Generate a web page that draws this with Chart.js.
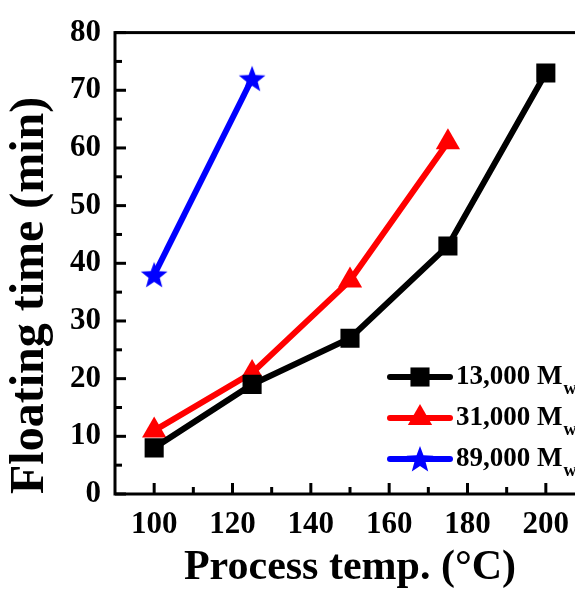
<!DOCTYPE html>
<html>
<head>
<meta charset="utf-8">
<script src="https://cdn.jsdelivr.net/npm/chart.js@4.4.0/dist/chart.umd.min.js"></script>
<style>
  html, body { margin: 0; padding: 0; background: #fff; overflow: hidden; }
  #wrap { width: 620px; height: 593px; }
</style>
</head>
<body>
<div id="wrap"><canvas id="floatChart" width="620" height="593"></canvas></div>
<script>
// data
const temps13k = [100, 125, 150, 175, 200];
const time13k = [8, 19, 27, 43, 73];
const temps31k = [100, 125, 150, 175];
const time31k = [11, 21, 37, 61];
const temps89k = [100, 125];
const time89k = [38, 72];
const seriesNames = ['13,000 M', '31,000 M', '89,000 M'];
const xTicks = [100, 120, 140, 160, 180, 200];
const yTicks = [0, 10, 20, 30, 40, 50, 60, 70, 80];

const FONT = '"Liberation Serif", "Times New Roman", serif';

// filled five point star, chart.js's own "star" is only strokes
const makeStar = (size, color) => {
  const c = document.createElement('canvas');
  c.width = size; c.height = size;
  const g = c.getContext('2d');
  const cx = size / 2, cy = size / 2 + size * 0.04;
  const R = size / 2, r = R * 0.42;
  g.beginPath();
  for (let i = 0; i < 10; i++) {
    const rad = i % 2 === 0 ? R : r;
    const a = -Math.PI / 2 + i * Math.PI / 5;
    g.lineTo(cx + rad * Math.cos(a), cy + rad * Math.sin(a));
  }
  g.closePath();
  g.fillStyle = color;
  g.fill();
  return c;
};
const starImg = makeStar(28, '#0000ff');

const toPoints = (xs, ys) => xs.map((x, i) => ({ x, y: ys[i] }));

// inward ticks + frame
const frame = {
  id: 'frame',
  afterDraw(chart) {
    const { ctx, chartArea: a, scales: { x, y } } = chart;
    ctx.save();
    ctx.strokeStyle = '#000';
    ctx.lineWidth = 3;
    ctx.strokeRect(a.left, a.top, a.right - a.left, a.bottom - a.top);
    for (let v = 0; v <= 80; v += 5) {
      const py = y.getPixelForValue(v);
      const len = v % 10 === 0 ? 11 : 7;
      ctx.beginPath(); ctx.moveTo(a.left, py); ctx.lineTo(a.left + len, py); ctx.stroke();
    }
    for (let v = 100; v <= 210; v += 10) {
      const px = x.getPixelForValue(v);
      const len = v % 20 === 0 ? 11 : 7;
      ctx.beginPath(); ctx.moveTo(px, a.bottom); ctx.lineTo(px, a.bottom - len); ctx.stroke();
    }
    ctx.restore();
  }
};

// legend inside the plot, lower right
const insideLegend = {
  id: 'insideLegend',
  afterDraw(chart) {
    const { ctx } = chart;
    ctx.save();
    chart.data.datasets.forEach((ds, i) => {
      const yy = 377 + i * 41;
      ctx.strokeStyle = ds.borderColor;
      ctx.lineWidth = 6;
      ctx.lineCap = 'round';
      ctx.beginPath(); ctx.moveTo(390, yy); ctx.lineTo(450, yy); ctx.stroke();
      ctx.fillStyle = ds.backgroundColor;
      Chart.helpers.drawPoint(ctx, {
        pointStyle: ds.pointStyle, radius: ds.pointRadius, rotation: 0, borderWidth: 0
      }, 420, yy);
      ctx.fillStyle = '#000';
      ctx.font = 'bold 27px ' + FONT;
      ctx.textBaseline = 'middle';
      ctx.textAlign = 'left';
      ctx.fillText(seriesNames[i], 456, yy);
      const w = ctx.measureText(seriesNames[i]).width;
      ctx.font = 'bold 18px ' + FONT;
      ctx.fillText('w', 457 + w, yy + 12);
    });
    ctx.restore();
  }
};

const ctx = document.getElementById('floatChart').getContext('2d');
new Chart(ctx, {
  type: 'line',
  data: {
    datasets: [
      {
        label: seriesNames[0],
        data: toPoints(temps13k, time13k),
        borderColor: '#000000',
        backgroundColor: '#000000',
        borderWidth: 6,
        pointStyle: 'rect',
        pointRadius: 13.5,
        pointBorderWidth: 0
      },
      {
        label: seriesNames[1],
        data: toPoints(temps31k, time31k),
        borderColor: '#ff0000',
        backgroundColor: '#ff0000',
        borderWidth: 6,
        pointStyle: 'triangle',
        pointRadius: 14,
        pointBorderWidth: 0
      },
      {
        label: seriesNames[2],
        data: toPoints(temps89k, time89k),
        borderColor: '#0000ff',
        backgroundColor: '#0000ff',
        borderWidth: 6,
        pointStyle: starImg,
        pointRadius: 14,
        pointBorderWidth: 0
      }
    ]
  },
  options: {
    responsive: false,
    animation: false,
    layout: { padding: { top: 26, right: 35, bottom: 0, left: 0 } },
    plugins: {
      legend: { display: false },
      tooltip: { enabled: false }
    },
    scales: {
      x: {
        type: 'linear',
        min: 90,
        max: 210,
        afterBuildTicks: s => { s.ticks = xTicks.map(v => ({ value: v })); },
        grid: { display: false, drawTicks: false },
        border: { display: false },
        ticks: {
          color: '#000',
          padding: 12,
          font: { family: FONT, size: 31, weight: 'bold' }
        },
        title: {
          display: true,
          text: 'Process temp. (°C)',
          color: '#000',
          padding: { top: 4, bottom: 0 },
          font: { family: FONT, size: 42, weight: 'bold' }
        },
        afterFit: s => { s.height = 99; }
      },
      y: {
        type: 'linear',
        min: 0,
        max: 80,
        afterBuildTicks: s => { s.ticks = yTicks.map(v => ({ value: v })); },
        grid: { display: false, drawTicks: false },
        border: { display: false },
        ticks: {
          color: '#000',
          padding: 14,
          font: { family: FONT, size: 31, weight: 'bold' }
        },
        title: {
          display: true,
          text: 'Floating time (min)',
          color: '#000',
          align: 'start',
          padding: { top: 2, bottom: 0 },
          font: { family: FONT, size: 48, weight: 'bold' }
        },
        afterFit: s => { s.width = 115; }
      }
    }
  },
  plugins: [frame, insideLegend]
});
</script>
</body>
</html>
